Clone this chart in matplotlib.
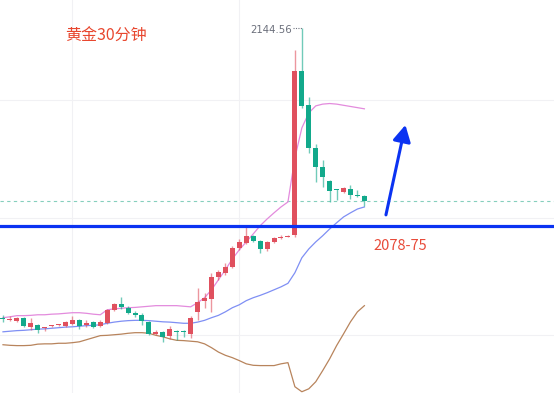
import numpy as np
import matplotlib
matplotlib.use("Agg")
import matplotlib.pyplot as plt

plt.rcParams['font.family'] = ['Noto Sans CJK SC', 'DejaVu Sans']

title = "黄金30分钟"
level_label = "2078-75"
high_label = "2144.56"

# 30-minute gold candles (open, high, low, close)
opens = [2045.9, 2045.0, 2044.9, 2045.9, 2042.8, 2043.5, 2042.3, 2043.0, 2043.3, 2043.2,
         2043.8, 2045.2, 2043.5, 2044.5, 2043.2, 2044.2, 2048.6, 2050.6, 2049.3, 2047.6,
         2046.9, 2044.5, 2040.4, 2041.1, 2039.8, 2041.5, 2041.5, 2040.4, 2047.9, 2051.7,
         2052.3, 2059.8, 2061.2, 2063.2, 2069.7, 2071.4, 2073.8, 2072.1, 2069.3, 2071.7,
         2073.1, 2073.4, 2074.1, 2129.9, 2118.3, 2103.7, 2097.2, 2092.5, 2089.6, 2088.7,
         2089.7, 2087.7, 2087.4]
highs = [2046.9, 2046.6, 2046.2, 2046.2, 2045.9, 2043.8, 2042.8, 2043.5, 2043.8, 2044.9,
         2046.6, 2045.5, 2045.2, 2044.9, 2045.2, 2048.9, 2051.0, 2053.0, 2050.0, 2048.3,
         2047.6, 2044.9, 2041.8, 2041.5, 2043.2, 2041.8, 2041.8, 2046.6, 2056.1, 2054.4,
         2061.2, 2062.2, 2064.6, 2070.4, 2072.7, 2077.2, 2074.1, 2072.4, 2072.1, 2073.4,
         2074.1, 2073.9, 2137.0, 2144.56, 2121.0, 2105.0, 2099.6, 2092.8, 2089.7, 2090.4,
         2091.1, 2089.4, 2087.7]
lows = [2044.5, 2044.9, 2044.5, 2042.8, 2041.8, 2040.8, 2041.5, 2042.8, 2043.2, 2042.8,
        2043.5, 2042.1, 2042.8, 2042.5, 2042.8, 2043.8, 2048.3, 2048.9, 2047.2, 2046.2,
        2043.5, 2040.1, 2040.1, 2037.7, 2038.7, 2038.4, 2039.4, 2039.1, 2045.2, 2049.3,
        2047.9, 2058.8, 2060.5, 2062.9, 2069.0, 2071.0, 2071.7, 2068.0, 2068.7, 2071.4,
        2072.7, 2073.3, 2073.4, 2117.3, 2102.0, 2092.1, 2090.4, 2085.3, 2086.0, 2088.4,
        2086.3, 2087.0, 2084.0]
closes = [2045.5, 2045.4, 2045.9, 2043.2, 2044.2, 2041.8, 2042.7, 2043.3, 2043.7, 2044.5,
          2045.2, 2043.2, 2044.2, 2042.8, 2044.5, 2048.6, 2050.6, 2049.6, 2047.6, 2046.9,
          2044.9, 2040.4, 2041.1, 2039.4, 2042.1, 2041.1, 2041.0, 2045.9, 2051.3, 2052.7,
          2059.8, 2061.5, 2063.2, 2069.7, 2071.7, 2073.8, 2072.1, 2069.3, 2071.7, 2073.1,
          2073.4, 2073.8, 2129.9, 2118.0, 2103.7, 2097.2, 2093.8, 2089.1, 2089.2, 2090.1,
          2087.7, 2087.2, 2085.7]

# Bollinger bands
boll_upper = [2045.9, 2046.2, 2046.6, 2046.6, 2046.7, 2046.9, 2046.9, 2047.1, 2047.2, 2047.4,
              2047.6, 2047.6, 2047.4, 2047.1, 2046.9, 2048.6, 2048.9, 2049.1, 2049.3, 2049.4,
              2049.6, 2049.8, 2050.0, 2050.0, 2050.0, 2050.0, 2049.8, 2049.6, 2051.0, 2052.7,
              2055.4, 2058.8, 2062.2, 2065.9, 2069.0, 2071.7, 2074.4, 2077.2, 2079.5, 2081.6,
              2083.6, 2085.3, 2100.3, 2110.5, 2115.6, 2118.0, 2118.6, 2118.8, 2118.6, 2118.2,
              2117.8, 2117.4, 2117.0]
boll_mid = [2041.1, 2041.3, 2041.5, 2041.6, 2041.8, 2042.0, 2042.1, 2042.3, 2042.5, 2042.7,
            2042.8, 2043.0, 2043.2, 2043.3, 2043.5, 2044.0, 2044.4, 2044.7, 2044.9, 2045.0,
            2045.0, 2044.9, 2044.7, 2044.5, 2044.4, 2044.2, 2044.0, 2044.0, 2044.4, 2045.0,
            2045.9, 2046.7, 2047.9, 2049.3, 2050.3, 2051.7, 2052.7, 2053.5, 2054.4, 2055.4,
            2056.4, 2057.6, 2061.2, 2066.3, 2069.3, 2071.7, 2073.8, 2076.1, 2078.2, 2080.2,
            2081.6, 2082.9, 2083.6]
boll_lower = [2036.7, 2036.5, 2036.4, 2036.4, 2036.5, 2036.9, 2037.0, 2037.0, 2037.2, 2037.2,
              2037.4, 2037.7, 2038.4, 2039.1, 2039.8, 2039.9, 2040.1, 2040.3, 2040.6, 2040.8,
              2040.8, 2040.6, 2039.9, 2039.4, 2038.7, 2038.2, 2038.1, 2037.9, 2037.7, 2037.0,
              2035.7, 2034.2, 2033.1, 2032.3, 2031.3, 2030.2, 2029.7, 2029.6, 2029.6, 2029.6,
              2030.2, 2030.6, 2022.4, 2020.7, 2021.7, 2024.1, 2027.9, 2031.9, 2036.4, 2040.4,
              2044.5, 2047.9, 2050.0]

level = 2077.2
grid_prices = [2120, 2080, 2040]
grid_bars = [10, 34]
arrow_from = (55.1, 2080.9)
arrow_to = (57.9, 2111.5)

up_color = '#E0505E'
down_color = '#12A98B'
blue = '#0B33F2'

fig = plt.figure(figsize=(5.54, 3.93), dpi=100)
fig.set_facecolor('white')
ax = fig.add_axes([0, 0, 1, 1])
ax.set_xlim(-0.43, 79.28)
ax.set_ylim(2020.27, 2154.04)
ax.axis('off')

for g in grid_prices:
    ax.axhline(g, color='#F1F1F4', lw=0.8, zorder=0)
for g in grid_bars:
    ax.axvline(g, color='#F1F1F4', lw=0.8, zorder=0)

x = np.arange(len(opens))
o = np.array(opens)
c = np.array(closes)
colors = [up_color if cc >= oo else down_color for oo, cc in zip(o, c)]

ax.plot(x, boll_upper, color='#E38BDD', lw=0.9, zorder=2)
ax.plot(x, boll_mid, color='#7F8FF4', lw=0.9, zorder=2)
ax.plot(x, boll_lower, color='#B8845C', lw=0.9, zorder=2)

ax.vlines(x, lows, highs, colors=colors, lw=1.0, alpha=0.6, zorder=3)
heights = np.maximum(np.abs(c - o), 0.4)
ax.bar(x, heights, bottom=np.minimum(o, c), width=0.72, color=colors, zorder=4)

# current price line
ax.axhline(closes[-1], color='#86CFBD', lw=0.8, ls=(0, (3, 3)), zorder=1)

# key level
ax.axhline(level, color=blue, lw=2.3, zorder=5)

# high marker
ih = int(np.argmax(highs))
ax.plot([ih - 1.3, ih], [highs[ih], highs[ih]], color='#707480', lw=0.8, ls=(0, (1, 1.2)), zorder=5)
ax.text(ih - 1.4, highs[ih] - 0.9, high_label, fontsize=7.3, color='#6B6F7B',
        ha='right', va='center', family=['DejaVu Sans'])

ax.annotate('', xy=arrow_to, xytext=arrow_from,
            arrowprops=dict(arrowstyle='-|>,head_length=0.55,head_width=0.3', color=blue,
                            lw=2.2, mutation_scale=18, shrinkA=0, shrinkB=0), zorder=6)

ax.text(65 / 554, 1 - 36 / 393, title, transform=ax.transAxes, fontsize=11.5,
        color='#E8472F', ha='left', va='center')
ax.text(373 / 554, 1 - 246 / 393, level_label, transform=ax.transAxes, fontsize=10.5,
        color='#E84B3A', ha='left', va='center')

fig.savefig('out.png', dpi=100, facecolor='white')
